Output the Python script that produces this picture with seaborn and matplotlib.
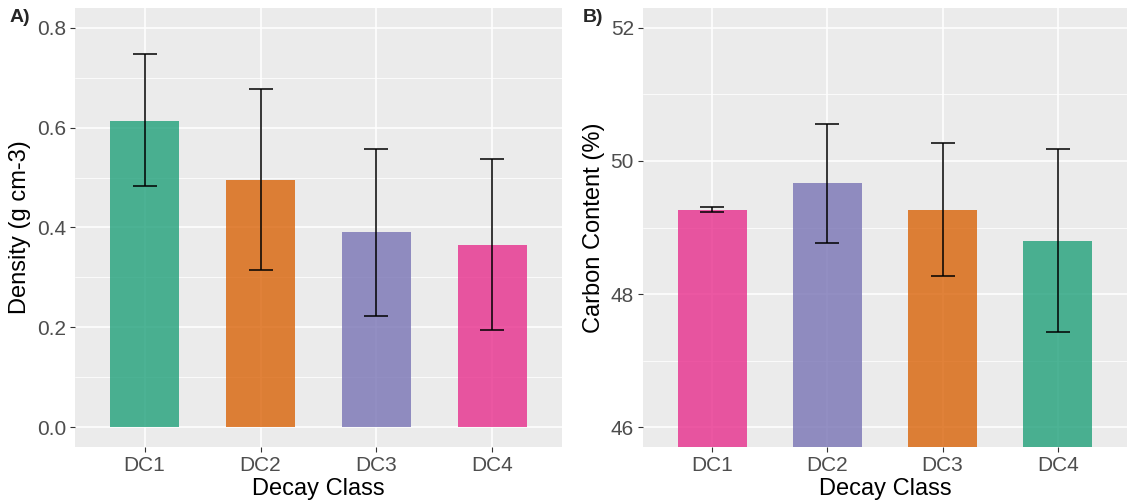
import numpy as np
import pandas as pd
import matplotlib.pyplot as plt
from matplotlib.ticker import MultipleLocator
import seaborn as sns

# ================= DATA =================
classes = ["DC1", "DC2", "DC3", "DC4"]

density = [0.614, 0.496, 0.390, 0.365]
density_lo = [0.483, 0.314, 0.223, 0.195]
density_hi = [0.747, 0.678, 0.557, 0.538]

carbon = [49.27, 49.665, 49.26, 48.795]
carbon_lo = [49.24, 48.77, 48.27, 47.425]
carbon_hi = [49.31, 50.56, 50.27, 50.185]

# Dark2 colours
pal_a = ["#1B9E77", "#D95F02", "#7570B3", "#E7298A"]
pal_b = ["#E7298A", "#7570B3", "#D95F02", "#1B9E77"]

sns.set_theme(style="darkgrid")
plt.rcParams["font.family"] = ["Liberation Sans", "DejaVu Sans"]

fig = plt.figure(figsize=(11.27, 5.04), dpi=100)
ax_a = fig.add_axes([75 / 1127, 1 - 447 / 504, 487 / 1127, 439 / 504])
ax_b = fig.add_axes([643 / 1127, 1 - 447 / 504, 484 / 1127, 439 / 504])


def panel(ax, vals, lo, hi, pal, ylim, major, minor, ylabel):
    df = pd.DataFrame({"cls": classes, "val": vals})
    sns.barplot(data=df, x="cls", y="val", hue="cls", palette=pal,
                width=0.6, alpha=0.78, saturation=1, errorbar=None,
                legend=False, linewidth=0, ax=ax)
    v = np.array(vals)
    yerr = [v - np.array(lo), np.array(hi) - v]
    ax.errorbar(np.arange(len(classes)), v, yerr=yerr, fmt="none",
                ecolor="black", elinewidth=1.1, capsize=8.5, capthick=1.1,
                zorder=5)
    ax.set_facecolor("#EBEBEB")
    ax.set_xlim(-0.6, 3.6)
    ax.set_ylim(*ylim)
    ax.yaxis.set_major_locator(MultipleLocator(major))
    ax.yaxis.set_minor_locator(MultipleLocator(minor))
    ax.grid(which="major", color="white", linewidth=1.1)
    ax.grid(which="minor", axis="y", color="white", linewidth=0.55)
    ax.set_axisbelow(True)
    for s in ax.spines.values():
        s.set_visible(False)
    ax.tick_params(axis="both", which="major", length=3.5, width=0.8,
                   color="#333333", labelcolor="#4D4D4D", labelsize=15,
                   pad=3, left=True, bottom=True)
    ax.tick_params(which="minor", length=0)
    ax.set_xlabel("Decay Class", fontsize=17, color="black", labelpad=2)
    ax.set_ylabel(ylabel, fontsize=17, color="black", labelpad=4)


panel(ax_a, density, density_lo, density_hi, pal_a, (-0.04, 0.84),
      0.2, 0.1, "Density (g cm-3)")
ax_a.yaxis.set_major_formatter(plt.FuncFormatter(lambda v, p: f"{v:.1f}"))

panel(ax_b, carbon, carbon_lo, carbon_hi, pal_b, (45.7, 52.3),
      2, 1, "Carbon Content (%)")

fig.text(10 / 1127, 1 - 18 / 504, "A)", fontsize=14, fontweight="bold",
         va="center", ha="left")
fig.text(583 / 1127, 1 - 18 / 504, "B)", fontsize=14, fontweight="bold",
         va="center", ha="left")

fig.savefig("out.png", dpi=100, facecolor="white")
